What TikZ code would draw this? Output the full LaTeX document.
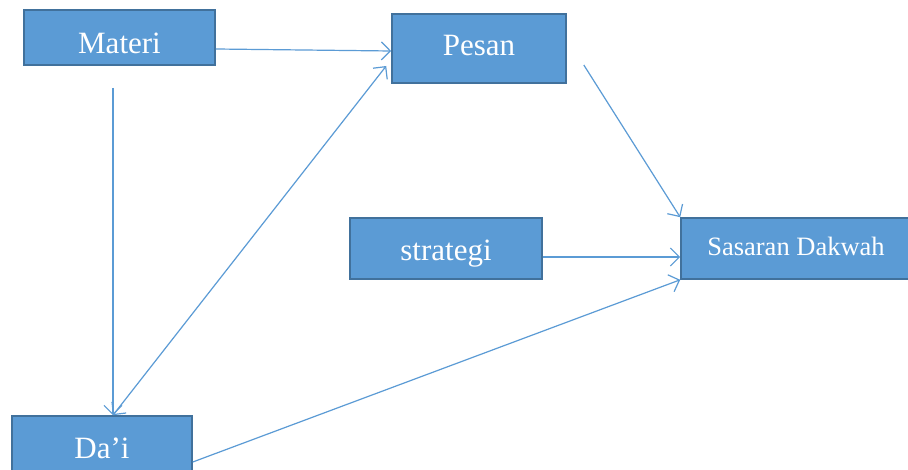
\documentclass[tikz,border=0pt]{standalone}
\usepackage{fontspec}
\setmainfont{Liberation Serif}
\usetikzlibrary{arrows.meta,calc}
\definecolor{boxfill}{HTML}{5B9BD5}
\definecolor{boxline}{HTML}{41719C}
\definecolor{arrowcol}{HTML}{5B9BD5}
\tikzset{
  box/.style={draw=boxline, line width=1.6pt, fill=boxfill, text=white, inner sep=0pt, text depth=0pt, font=\fontsize{31}{36}\selectfont},
  conn/.style={draw=arrowcol, line width=1.2pt, -{Straight Barb[length=9pt,width=18pt]}},
  dconn/.style={draw=arrowcol, line width=1.2pt, {Straight Barb[length=9pt,width=18pt]}-{Straight Barb[length=9pt,width=18pt]}}
}
\begin{document}
\begin{tikzpicture}[x=1pt,y=-1pt]
\clip (0,0) rectangle (908,470);
\fill[white] (0,0) rectangle (908,470);
\node[box, minimum width=191pt, minimum height=55pt, text height=32pt] (materi) at (119.5,37.5) {Materi};
\node[box, minimum width=174pt, minimum height=69pt, text height=14pt] (pesan) at (479,48.5) {Pesan};
\node[box, minimum width=192pt, minimum height=61pt, text height=25pt] (strategi) at (446,248.5) {strategi};
\node[box, minimum width=230pt, minimum height=61pt, text height=14pt, font=\fontsize{26.5}{30}\selectfont] (sasaran) at (796,248.5) {Sasaran Dakwah};
\node[box, minimum width=180pt, minimum height=55pt, text height=29pt] (dai) at (102,443.5) {Da’i};
\draw[conn] ($(materi.east)+(0,11.5)$) -- ($(pesan.west)+(0,2.5)$);
\draw[conn] ($(materi.south)+(-6.5,22)$) -- ($(dai.north)+(11,0)$);
\draw[dconn] ($(dai.north)+(11,0)$) -- ($(pesan.west)+(-5,17.5)$);
\draw[conn] ($(pesan.east)+(17,16.5)$) -- (sasaran.north west);
\draw[conn] ($(strategi.east)+(0,8.5)$) -- ($(sasaran.west)+(0,8.5)$);
\draw[conn] ($(dai.east)+(0,18.5)$) -- (sasaran.south west);
\end{tikzpicture}
\end{document}
